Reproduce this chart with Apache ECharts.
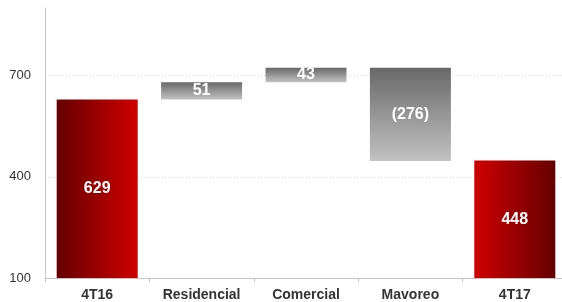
<!DOCTYPE html>
<html lang="en">
<head>
<meta charset="UTF-8">
<title>Waterfall</title>
<script src="https://cdn.jsdelivr.net/npm/echarts@6/dist/echarts.min.js"></script>
<style>
  html, body { margin: 0; padding: 0; background: #fff; overflow: hidden; }
  /* plot runs a few px past the right edge of the window, like the original */
  #main { width: 567px; height: 302px; }
</style>
</head>
<body>
<div id="main"></div>
<script>
  // data
  var categories = ['4T16', 'Residencial', 'Comercial', 'Mavoreo', '4T17'];
  var changes = [629, 51, 43, -276, 448];
  var isTotal = [true, false, false, false, true];
  var valueLabels = ['629', '51', '43', '(276)', '448'];
  var yTicks = [100, 400, 700];

  var yMin = 100, yMax = 900;

  // build the invisible base + the visible part of each bar
  var base = [], visible = [];
  var running = 0;
  for (var i = 0; i < categories.length; i++) {
    if (isTotal[i]) {
      running = changes[i];
      base.push(yMin);
      visible.push(changes[i] - yMin);
    } else {
      var from = running, to = running + changes[i];
      base.push(Math.min(from, to));
      visible.push(Math.abs(changes[i]));
      running = to;
    }
  }

  var redLeftDark = new echarts.graphic.LinearGradient(0, 0, 1, 0, [
    { offset: 0, color: '#650000' }, { offset: 1, color: '#cf0000' }
  ]);
  var redRightDark = new echarts.graphic.LinearGradient(0, 0, 1, 0, [
    { offset: 0, color: '#cf0000' }, { offset: 1, color: '#650000' }
  ]);
  var grey = new echarts.graphic.LinearGradient(0, 0, 0, 1, [
    { offset: 0, color: '#686868' }, { offset: 1, color: '#c2c2c2' }
  ]);

  var visData = visible.map(function (v, i) {
    var c = grey;
    if (i === 0) c = redLeftDark;
    else if (isTotal[i]) c = redRightDark;
    return { value: v, itemStyle: { color: c } };
  });

  var chart = echarts.init(document.getElementById('main'));
  chart.setOption({
    animation: false,
    grid: { left: 45, right: 0, top: 8, bottom: 23, containLabel: false },
    xAxis: {
      type: 'category',
      data: categories,
      axisLine: { lineStyle: { color: '#c4c4c4', width: 1 } },
      axisTick: { show: true, length: 4, lineStyle: { color: '#c4c4c4' } },
      axisLabel: {
        color: '#333', fontSize: 14, fontWeight: 'bold',
        fontFamily: 'Liberation Sans, Arial, sans-serif', margin: 10
      }
    },
    yAxis: {
      type: 'value',
      min: yMin,
      max: yMax,
      interval: 300,
      axisLine: { show: true, lineStyle: { color: '#c4c4c4', width: 1 } },
      axisTick: { show: false },
      axisLabel: {
        color: '#333', fontSize: 13, margin: 14,
        fontFamily: 'Liberation Sans, Arial, sans-serif',
        showMaxLabel: false,
        formatter: function (v) { return yTicks.indexOf(v) >= 0 ? String(v) : ''; }
      },
      splitLine: {
        show: true, showMinLine: false, showMaxLine: false,
        lineStyle: { color: '#dcdcdc', type: [1, 2], width: 1 }
      }
    },
    series: [
      {
        type: 'bar',
        stack: 'wf',
        barWidth: 81,
        silent: true,
        itemStyle: { color: 'transparent' },
        data: base
      },
      {
        type: 'bar',
        stack: 'wf',
        barWidth: 81,
        data: visData,
        label: {
          show: true,
          position: 'inside',
          color: '#fff',
          fontSize: 16,
          fontWeight: 'bold',
          fontFamily: 'Liberation Sans, Arial, sans-serif',
          formatter: function (p) { return valueLabels[p.dataIndex]; }
        }
      }
    ]
  });
</script>
</body>
</html>
